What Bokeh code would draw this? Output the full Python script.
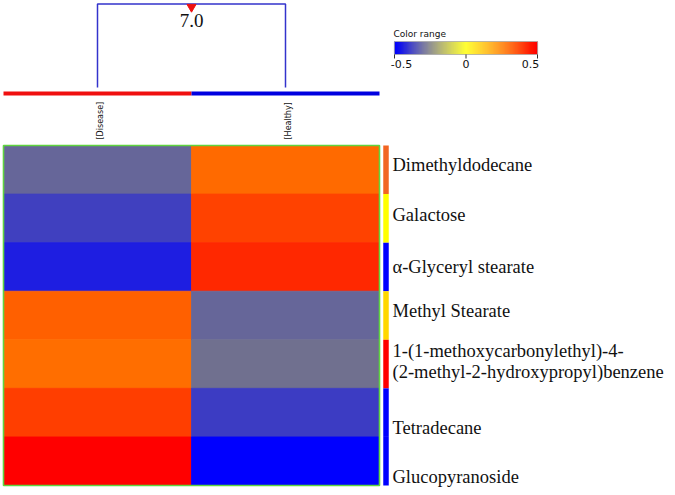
import numpy as np
from bokeh.plotting import figure
from bokeh.models import Range1d, ColumnDataSource, LinearColorMapper
from bokeh.transform import transform
from bokeh.core.properties import value
from bokeh.embed import file_html
from bokeh.resources import INLINE

# ---------------- data ----------------
groups = ["[Disease]", "[Healthy]"]
group_colors = ["#f01010", "#0000e0"]
compounds = [
    "Dimethyldodecane",
    "Galactose",
    "α-Glyceryl stearate",
    "Methyl Stearate",
    "1-(1-methoxycarbonylethyl)-4-\n(2-methyl-2-hydroxypropyl)benzene",
    "Tetradecane",
    "Glucopyranoside",
]
disease = [-0.30, -0.375, -0.44, 0.31, 0.285, 0.375, 0.50]
healthy = [0.29, 0.37, 0.42, -0.30, -0.28, -0.38, -0.50]
row_cluster_colors = ["#f26522", "#ffff00", "#0000ff", "#ffd700", "#ff0000", "#0000ff", "#0000ff"]
dendro_height = "7.0"
color_ticks = [-0.5, 0.0, 0.5]
color_tick_labels = ["-0.5", "0", "0.5"]
vmin, vmax = -0.5, 0.5

# ---------------- palette (blue -> yellow -> red, linear RGB) ----------------
def make_palette(n=256):
    pal = []
    for t in np.linspace(0, 1, n):
        if t <= 0.5:
            s = t / 0.5
            r, g, b = 255 * s, 255 * s, 255 * (1 - s)
        else:
            s = (t - 0.5) / 0.5
            r, g, b = 255, 255 * (1 - s), 0
        pal.append("#%02x%02x%02x" % (int(round(r)), int(round(g)), int(round(b))))
    return pal

palette = make_palette()
mapper = LinearColorMapper(palette=palette, low=vmin, high=vmax)

# ---------------- figure (units: 1 x unit = one column, 1 y unit = one row) ----------------
W, H = 667, 487
X0, CW = 3.0, 188.0
TOP, RH = 145.0, 340.0 / 7
def xpx(px):
    return (px - X0) / CW
def ypx(py):
    return (py - TOP) / RH

p = figure(width=W, height=H, output_backend="svg", toolbar_location=None,
           x_range=Range1d(xpx(0), xpx(W)), y_range=Range1d(ypx(H), ypx(0)),
           x_axis_type=None, y_axis_type=None, min_border=0)
p.grid.visible = False
p.outline_line_color = None
p.background_fill_color = "white"
p.border_fill_color = "white"

# heatmap cells
nrow = len(compounds)
xs, ys, vals = [], [], []
for ci, col in enumerate([disease, healthy]):
    for ri, v in enumerate(col):
        xs.append(ci + 0.5)
        ys.append(ri + 0.5)
        vals.append(v)
src = ColumnDataSource(dict(x=xs, y=ys, v=vals))
p.rect(x="x", y="y", width=1, height=1, source=src,
       fill_color=transform("v", mapper), line_color=transform("v", mapper),
       line_width=0.8)

# green border around heatmap
p.rect(x=[len(groups) / 2], y=[nrow / 2], width=len(groups), height=nrow,
       fill_color=None, line_color="#5fd43f", line_width=1.6)

# row cluster side bar
p.rect(x=[xpx(385.5)] * nrow, y=[i + 0.5 for i in range(nrow)], width=5.5 / CW, height=1,
       fill_color=row_cluster_colors, line_color=None)

# row labels
label_dy = [-0.09, -0.06, 0.0, -0.1, -0.05, 0.31, 0.33]
p.text(x=[xpx(392)] * nrow, y=[i + 0.5 + d for i, d in zip(range(nrow), label_dy)],
       text=compounds, text_font=value("Liberation Serif"), text_font_size="18.5px",
       text_color="#111111", text_align="left", text_baseline="middle",
       text_line_height=1.05)

# dendrogram
gx = [i + 0.5 for i in range(len(groups))]
p.line(x=[gx[0], gx[0], gx[1], gx[1]],
       y=[ypx(87), ypx(3.5), ypx(3.5), ypx(87)],
       line_color="#3333cc", line_width=1.5)
p.scatter(x=[sum(gx) / 2], y=[ypx(6.5)], marker="inverted_triangle", size=9,
          fill_color="#ee1111", line_color="#ee1111")
p.text(x=[sum(gx) / 2], y=[ypx(20)], text=[dendro_height],
       text_font=value("Liberation Serif"), text_font_size="19px",
       text_color="#111111", text_align="center", text_baseline="middle")

# group color bar
p.rect(x=gx, y=[ypx(93)] * len(groups), width=1, height=4 / RH,
       fill_color=group_colors, line_color=None)

# group labels (rotated)
p.text(x=[g + 3 / CW for g in gx], y=[ypx(139)] * len(groups), text=groups,
       angle=np.pi / 2, text_font=value("DejaVu Sans"), text_font_size="8px",
       text_color="#111111", text_align="left", text_baseline="middle")

# colour range bar
cb_x0, cb_x1 = xpx(394), xpx(537)
def cbx(v):
    return cb_x0 + (v - vmin) / (vmax - vmin) * (cb_x1 - cb_x0)
n_cb = 143
cb_vals = np.linspace(vmin, vmax, n_cb)
cb_w = (cb_x1 - cb_x0) / n_cb
cb_src = ColumnDataSource(dict(x=[cbx(v) for v in cb_vals], v=list(cb_vals)))
cb_y = (ypx(41) + ypx(54)) / 2
p.rect(x="x", y=cb_y, width=cb_w * 1.1, height=13 / RH,
       source=cb_src, fill_color=transform("v", mapper), line_color=None)
p.rect(x=[(cb_x0 + cb_x1) / 2], y=[cb_y], width=cb_x1 - cb_x0,
       height=13 / RH, fill_color=None, line_color="#aaaaaa", line_width=0.8)
p.text(x=[xpx(393)], y=[ypx(33)], text=["Color range"], text_font=value("DejaVu Sans"),
       text_font_size="9px", text_color="#111111", text_align="left",
       text_baseline="middle")
p.segment(x0=[cbx(t) for t in color_ticks], y0=[ypx(54)] * 3,
          x1=[cbx(t) for t in color_ticks], y1=[ypx(58)] * 3,
          line_color="#333333", line_width=1)
p.text(x=[cbx(t) for t in color_ticks], y=[ypx(63)] * 3, text=color_tick_labels,
       text_font=value("DejaVu Sans"), text_font_size="11px", text_color="#111111",
       text_align="center", text_baseline="middle", x_offset=[7, 0, -7])

open("out.html", "w").write(file_html(p, INLINE))
